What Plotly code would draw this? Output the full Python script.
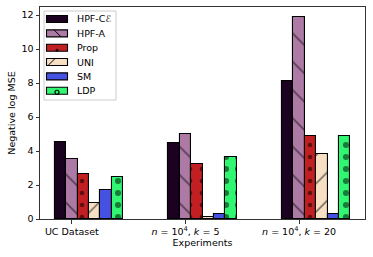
import plotly.graph_objects as go

groups = ["UC Dataset", "<i>n</i> = 10<sup>4</sup>, <i>k</i> = 5", "<i>n</i> = 10<sup>4</sup>, <i>k</i> = 20"]
series = ["HPF-C<i>ℰ</i>", "HPF-A", "Prop", "UNI", "SM", "LDP"]
hpf_ce = [4.55, 4.45, 8.15]
hpf_a = [3.53, 4.98, 11.92]
prop = [2.63, 3.21, 4.88]
uni = [0.96, 0.12, 3.84]
sm = [1.72, 0.27, 0.27]
ldp = [2.45, 3.63, 4.88]
values = [hpf_ce, hpf_a, prop, uni, sm, ldp]

colors = ["#1b0221", "#ad79a5", "#c11f22", "#f6dfc3", "#4451e1", "#30f672"]
patterns = ["", "\\", ".", "/", "", "."]
psizes = [8, 20, 12, 20, 8, 12]
psolid = [0.2, 0.08, 0.12, 0.08, 0.2, 0.2]

width = 0.1
fig = go.Figure()
for i, (name, vals) in enumerate(zip(series, values)):
    xs = [g + (i - 1) * width for g in range(len(groups))]
    fig.add_trace(go.Bar(
        x=xs, y=vals, width=width, name=name, showlegend=False,
        marker=dict(color=colors[i], line=dict(color="black", width=1.1),
                    pattern=dict(shape=patterns[i], fgcolor="black", bgcolor=colors[i],
                                 size=psizes[i], solidity=psolid[i], fillmode="overlay")),
    ))

# custom legend in paper coordinates (plot area: 325 x 212 px)
PW, PH = 325.0, 212.0
def px(x):
    return (x - 40) / PW
def py(y):
    return (219 - y) / PH

shapes = []
annotations = []
shapes.append(dict(type="rect", xref="paper", yref="paper",
                   x0=px(44), x1=px(116), y0=py(100), y1=py(11),
                   line=dict(color="#cccccc", width=1), fillcolor="rgba(255,255,255,0.85)", layer="above"))
for i, name in enumerate(series):
    yc = 19 + i * 14.35
    shapes.append(dict(type="rect", xref="paper", yref="paper",
                       x0=px(46.5), x1=px(67.5), y0=py(yc + 3.5), y1=py(yc - 3.5),
                       line=dict(color="black", width=1.1), fillcolor=colors[i], layer="above"))
    if patterns[i] == "\\":
        shapes.append(dict(type="line", xref="paper", yref="paper",
                           x0=px(54), x1=px(61), y0=py(yc - 3.5), y1=py(yc + 3.5),
                           line=dict(color="black", width=1), layer="above"))
    if patterns[i] == "/":
        shapes.append(dict(type="line", xref="paper", yref="paper",
                           x0=px(48), x1=px(55), y0=py(yc + 3.5), y1=py(yc - 3.5),
                           line=dict(color="black", width=1), layer="above"))
    if i == 2:
        shapes.append(dict(type="circle", xref="paper", yref="paper",
                           x0=px(56), x1=px(58), y0=py(yc + 3.5), y1=py(yc + 1.5),
                           line=dict(color="black", width=1), fillcolor="black", layer="above"))
    if i == 5:
        shapes.append(dict(type="circle", xref="paper", yref="paper",
                           x0=px(55), x1=px(59), y0=py(yc + 3.5), y1=py(yc - 0.5),
                           line=dict(color="black", width=1.2), fillcolor=colors[i], layer="above"))
    annotations.append(dict(xref="paper", yref="paper", x=px(75), y=py(yc),
                            text=name, showarrow=False, xanchor="left", yanchor="middle",
                            font=dict(size=9.5, family="DejaVu Sans", color="black")))

fig.update_layout(
    width=373, height=257,
    margin=dict(l=40, r=8, t=7, b=38),
    plot_bgcolor="white", paper_bgcolor="white",
    font=dict(family="DejaVu Sans", size=9.5, color="black"),
    showlegend=False,
    bargap=0,
    shapes=shapes, annotations=annotations,
)
fig.update_xaxes(
    range=[-0.28, 2.58], tickvals=list(range(len(groups))), ticktext=groups,
    showline=True, linecolor="#333", mirror=True, linewidth=1,
    ticks="outside", ticklen=3.5, tickcolor="#333", showgrid=False, zeroline=False,
    automargin=False,
    title=dict(text="Experiments", font=dict(size=9.5), standoff=2),
)
fig.update_yaxes(
    range=[0, 12.48], tickvals=[0, 2, 4, 6, 8, 10, 12],
    showline=True, linecolor="#333", mirror=True, linewidth=1,
    ticks="outside", ticklen=3.5, tickcolor="#333", showgrid=False, zeroline=False,
    automargin=False,
    title=dict(text="Negative log MSE", font=dict(size=9.5), standoff=4),
)
fig.write_html("out.html", config={"displayModeBar": False},
               post_script="document.body.style.margin='0';document.body.style.padding='0';")
